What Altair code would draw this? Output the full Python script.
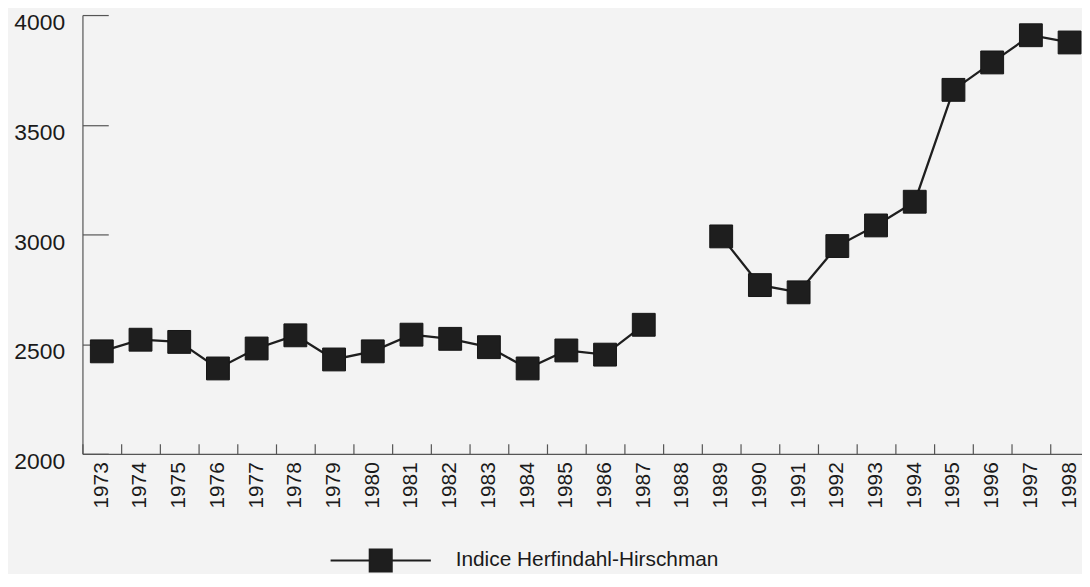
import altair as alt
import pandas as pd

years = ["1973", "1974", "1975", "1976", "1977", "1978", "1979", "1980", "1981",
         "1982", "1983", "1984", "1985", "1986", "1987", "1988", "1989", "1990",
         "1991", "1992", "1993", "1994", "1995", "1996", "1997", "1998"]
hhi = [2467, 2520, 2510, 2389, 2480, 2540, 2430, 2467, 2543, 2524, 2486, 2389,
       2471, 2452, 2588, None, 2991, 2769, 2736, 2947, 3041, 3149, 3659, 3784,
       3908, 3875]
y_ticks = [2000, 2500, 3000, 3500, 4000]
series_name = "Indice Herfindahl-Hirschman"

# segment id so that the line breaks at missing years
seg = []
s = 0
for v in hhi:
    if v is None:
        s += 1
    seg.append(s)

df = pd.DataFrame({"year": years, "hhi": hhi, "seg": seg, "series": series_name})
df_valid = df.dropna()

W = 1007
H = 442
BAND = 39
FONT = "Liberation Sans"
INK = "#1e1e1e"
TEXT = "#1a1a1a"
AXIS = "#555555"

x_scale = alt.Scale(type="band", domain=years, range=[0, BAND * len(years)],
                    paddingInner=0, paddingOuter=0)
y_scale = alt.Scale(domain=[2000, 4000], nice=False, zero=False)
color_scale = alt.Scale(domain=[series_name], range=[INK])

legend_symbol = "M-1,0L1,0M-0.22,-0.22L0.22,-0.22L0.22,0.22L-0.22,0.22Z"
legend = alt.Legend(orient="none", legendX=249, legendY=498, title=None,
                    symbolType=legend_symbol, symbolSize=10201,
                    symbolFillColor="#2e2e2e", symbolStrokeColor=INK,
                    symbolStrokeWidth=2, labelFont=FONT, labelFontSize=21,
                    labelColor=TEXT, labelOffset=24, labelLimit=0, padding=0)

base = alt.Chart(df_valid)

line = base.mark_line(strokeWidth=2.3).encode(
    x=alt.X("year:N", scale=x_scale,
            axis=alt.Axis(orient="bottom", title=None, labelAngle=-90,
                          labelAlign="right", labelBaseline="middle",
                          labelFont=FONT, labelFontSize=21, labelColor=TEXT,
                          labelPadding=8, ticks=False, tickSize=0, grid=False,
                          domainColor=AXIS, domainWidth=1.2)),
    y=alt.Y("hhi:Q", scale=y_scale,
            axis=alt.Axis(orient="left", title=None, values=y_ticks, format="d",
                          ticks=False, tickSize=0, labelPadding=18, labelOffset=8,
                          labelFont=FONT, labelFontSize=23, labelColor=TEXT,
                          grid=False, domainColor=AXIS, domainWidth=1.2)),
    color=alt.Color("series:N", scale=color_scale, legend=legend),
    detail="seg:N",
)

points = base.mark_point(shape="square", filled=True, size=530, opacity=1,
                         stroke="#151515", strokeWidth=1).encode(
    x=alt.X("year:N", scale=x_scale,
            axis=alt.Axis(orient="top", offset=-H, title=None, labels=False,
                          domain=False, ticks=True, tickSize=10, bandPosition=0,
                          tickColor=AXIS, tickWidth=1.2, grid=False)),
    y=alt.Y("hhi:Q", scale=y_scale,
            axis=alt.Axis(orient="right", offset=-W, title=None, values=y_ticks,
                          labels=False, domain=False, tickSize=26,
                          tickColor=AXIS, tickWidth=1.2, grid=False)),
    color=alt.Color("series:N", scale=color_scale, legend=legend),
)

chart = (
    alt.layer(line, points)
    .resolve_axis(x="independent", y="independent")
    .properties(width=W, height=H,
                autosize=alt.AutoSizeParams(type="none"),
                padding={"left": 75, "top": 5, "right": 0, "bottom": 119},
                background="#f3f3f3")
    .configure_view(stroke=None)
)

chart.save("out.html", embed_options={"renderer": "svg", "actions": False})
